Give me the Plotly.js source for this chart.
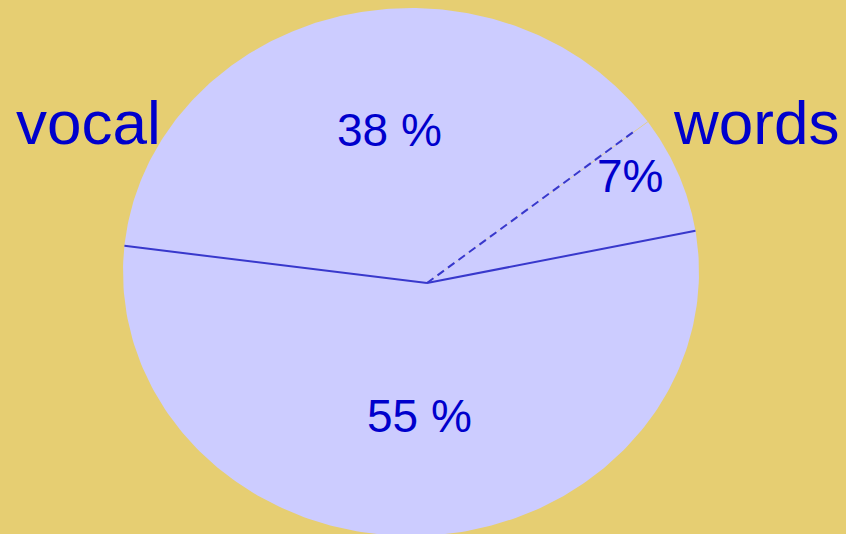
<!DOCTYPE html>
<html>
<head>
<meta charset="utf-8">
<script src="https://cdn.plot.ly/plotly-3.0.1.min.js"></script>
<style>html,body{margin:0;padding:0;background:#e6ce72;overflow:hidden}#chart{width:846px;height:534px}</style>
</head>
<body>
<div id="chart"></div>
<script>
// ---- data ----
const categories = ['vocal', 'words', ''];
const values = [38, 7, 55];
const valueLabels = ['38 %', '7%', '55 %'];

// ---- geometry / style (not data) ----
const G = {
  cx: 411, cy: 272, rx: 288, ry: 264,      // ellipse of the pie
  apexX: 427, apexY: 283,                  // where the slice edges meet
  startAngle: 173,                         // first boundary, degrees, clockwise order
  boundaryDash: ['solid', '8px,5px', 'solid'],
  boundaryFrac: [1, 0.95, 1],
  labelFrac: [0.566, 0.836, 0.525],
  labelAngleShift: [-0.7, 4.2, -5.4],
  catLabelPos: [[88, 122], [756, 122], null]
};
const bg = '#e6ce72', pieFill = '#ccccff', lineCol = '#3838cc', textCol = '#0000cc';
const FONT = 'Liberation Sans, Arial, sans-serif';

function edgeDist(angleDeg) {
  const a = angleDeg * Math.PI / 180;
  const dx = Math.cos(a), dy = -Math.sin(a);
  const ox = (G.apexX - G.cx) / G.rx, oy = (G.apexY - G.cy) / G.ry;
  const ux = dx / G.rx, uy = dy / G.ry;
  const A = ux * ux + uy * uy, B = 2 * (ox * ux + oy * uy), C = ox * ox + oy * oy - 1;
  return (-B + Math.sqrt(B * B - 4 * A * C)) / (2 * A);
}
function pt(angleDeg, r) {
  const a = angleDeg * Math.PI / 180;
  return [G.apexX + r * Math.cos(a), G.apexY - r * Math.sin(a)];
}

const total = values.reduce((s, v) => s + v, 0);
const traces = [];
const annotations = [];
let cum = 0;
const boundaries = [];
values.forEach((v, i) => {
  const a0 = G.startAngle - cum / total * 360;
  const a1 = G.startAngle - (cum + v) / total * 360;
  boundaries.push(a0);
  const xs = [G.apexX], ys = [G.apexY];
  const N = 200;
  for (let k = 0; k <= N; k++) {
    const ang = a0 + (a1 - a0) * k / N;
    const p = pt(ang, edgeDist(ang));
    xs.push(p[0]); ys.push(p[1]);
  }
  xs.push(G.apexX); ys.push(G.apexY);
  traces.push({x: xs, y: ys, type: 'scatter', mode: 'lines', fill: 'toself',
    fillcolor: pieFill, line: {width: 0, color: pieFill}, hoverinfo: 'skip', showlegend: false});
  const mid = (a0 + a1) / 2 + G.labelAngleShift[i];
  const lp = pt(mid, edgeDist(mid) * G.labelFrac[i]);
  annotations.push({x: lp[0], y: lp[1], xref: 'x', yref: 'y', text: valueLabels[i],
    showarrow: false, xanchor: 'center', yanchor: 'middle',
    font: {family: FONT, size: 46, color: textCol}});
  if (categories[i] && G.catLabelPos[i]) {
    annotations.push({x: G.catLabelPos[i][0], y: G.catLabelPos[i][1], xref: 'x', yref: 'y',
      text: categories[i], showarrow: false, xanchor: 'center', yanchor: 'middle',
      font: {family: FONT, size: 62, color: textCol}});
  }
  cum += v;
});
boundaries.forEach((ang, i) => {
  const e = pt(ang, edgeDist(ang) * G.boundaryFrac[i]);
  traces.push({x: [G.apexX, e[0]], y: [G.apexY, e[1]], type: 'scatter', mode: 'lines',
    line: {color: lineCol, width: 2, dash: G.boundaryDash[i]}, hoverinfo: 'skip', showlegend: false});
});

const layout = {
  width: 846, height: 534,
  margin: {l: 0, r: 0, t: 0, b: 0, pad: 0},
  paper_bgcolor: bg, plot_bgcolor: bg,
  xaxis: {range: [0, 846], visible: false, fixedrange: true},
  yaxis: {range: [534, 0], visible: false, fixedrange: true},
  annotations: annotations,
  showlegend: false
};
Plotly.newPlot('chart', traces, layout, {staticPlot: true, displayModeBar: false});
</script>
</body>
</html>
